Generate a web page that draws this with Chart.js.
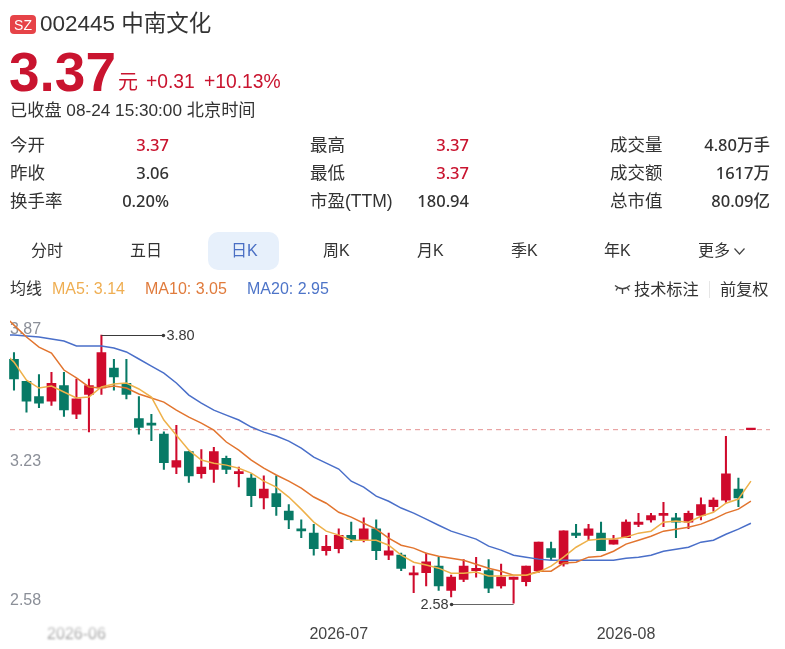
<!DOCTYPE html>
<html lang="zh"><head><meta charset="utf-8">
<script src="https://cdn.jsdelivr.net/npm/chart.js@4"></script>
<style>
html,body{margin:0;padding:0;background:#fff;width:785px;height:649px;overflow:hidden}
body{font-family:"Liberation Sans","Noto Sans CJK SC",sans-serif;color:#333;position:relative}
canvas{position:absolute;left:0;top:0}
.t{position:absolute;white-space:nowrap;line-height:24px;height:24px}
.r{text-align:right;font-family:"Noto Sans","Noto Sans CJK SC",sans-serif;font-weight:500}
.red{color:#c9142f}
</style></head><body>
<canvas id="c" width="785" height="649"></canvas>
<div style="position:absolute;left:44px;top:621px;width:64px;height:22px;backdrop-filter:blur(1.3px);-webkit-backdrop-filter:blur(1.3px);background:linear-gradient(to bottom,rgba(255,255,255,.75),rgba(255,255,255,.1))"></div>
<div class="t" style="left:10px;top:15px;width:26px;height:19px;line-height:20px;background:#e5393f;border-radius:4px;color:#fff;font-size:14px;text-align:center;opacity:.95">SZ</div>
<div class="t" style="left:40px;top:12px;font-size:22.5px">002445 中南文化</div>
<div class="t red" style="left:9px;top:58px;font-size:55px;font-weight:700;line-height:28px">3.37</div>
<div class="t red" style="left:118px;top:70px;font-size:20px">元</div>
<div class="t red" style="left:146px;top:70px;font-size:19.3px">+0.31</div>
<div class="t red" style="left:204px;top:70px;font-size:19.3px">+10.13%</div>
<div class="t" style="left:10px;top:98px;font-size:17.2px">已收盘 08-24 15:30:00 北京时间</div>

<div class="t" style="left:10px;top:133px;font-size:17.5px">今开</div><div class="t r red" style="left:69px;width:100px;top:133px;font-size:16.5px">3.37</div>
<div class="t" style="left:10px;top:161px;font-size:17.5px">昨收</div><div class="t r" style="left:69px;width:100px;top:161px;font-size:16.5px">3.06</div>
<div class="t" style="left:10px;top:189px;font-size:17.5px">换手率</div><div class="t r" style="left:69px;width:100px;top:189px;font-size:16.5px">0.20%</div>
<div class="t" style="left:310px;top:133px;font-size:17.5px">最高</div><div class="t r red" style="left:369px;width:100px;top:133px;font-size:16.5px">3.37</div>
<div class="t" style="left:310px;top:161px;font-size:17.5px">最低</div><div class="t r red" style="left:369px;width:100px;top:161px;font-size:16.5px">3.37</div>
<div class="t" style="left:310px;top:189px;font-size:17.5px">市盈(TTM)</div><div class="t r" style="left:369px;width:100px;top:189px;font-size:16.5px">180.94</div>
<div class="t" style="left:610px;top:133px;font-size:17.5px">成交量</div><div class="t r" style="left:670px;width:100px;top:133px;font-size:16.5px">4.80万手</div>
<div class="t" style="left:610px;top:161px;font-size:17.5px">成交额</div><div class="t r" style="left:670px;width:100px;top:161px;font-size:16.5px">1617万</div>
<div class="t" style="left:610px;top:189px;font-size:17.5px">总市值</div><div class="t r" style="left:670px;width:100px;top:189px;font-size:16.5px">80.09亿</div>

<div style="position:absolute;left:208px;top:232px;width:71px;height:38px;background:#e7f0fb;border-radius:10px"></div>
<div class="t" style="left:31px;top:239px;font-size:16px">分时</div>
<div class="t" style="left:130px;top:239px;font-size:16px">五日</div>
<div class="t" style="left:231px;top:239px;font-size:16px;color:#4a6fc4">日K</div>
<div class="t" style="left:323px;top:239px;font-size:16px">周K</div>
<div class="t" style="left:417px;top:239px;font-size:16px">月K</div>
<div class="t" style="left:511px;top:239px;font-size:16px">季K</div>
<div class="t" style="left:604px;top:239px;font-size:16px">年K</div>
<div class="t" style="left:698px;top:239px;font-size:16px">更多</div>
<svg style="position:absolute;left:733px;top:247px" width="13" height="9"><path d="M1.5 1.5L6.5 7L11.5 1.5" fill="none" stroke="#444" stroke-width="1.2"/></svg>

<div class="t" style="left:10px;top:277px;font-size:16px">均线</div>
<div class="t" style="left:52px;top:277px;font-size:16px;color:#efae52">MA5: 3.14</div>
<div class="t" style="left:145px;top:277px;font-size:16px;color:#e07b3c">MA10: 3.05</div>
<div class="t" style="left:247px;top:277px;font-size:16px;color:#4d74c8">MA20: 2.95</div>
<svg style="position:absolute;left:614px;top:284px" width="17" height="11"><path d="M1 1.5Q8.5 8 16 1.5M8.5 5V10M3.5 4L2 6.5M13.5 4L15 6.5" fill="none" stroke="#444" stroke-width="1.4"/></svg>
<div class="t" style="left:634px;top:277px;font-size:16.2px">技术标注</div>
<div style="position:absolute;left:709px;top:281px;width:1px;height:17px;background:#e6e6e6"></div>
<div class="t" style="left:720px;top:277px;font-size:16.2px">前复权</div>

<script>
// One leading and one trailing slot frame the 60 daily candles.
const categories = ['', '', '', '', '', '', '2026-06', '', '', '', '', '', '', '', '', '', '', '', '', '', '', '',
  '', '', '', '', '', '2026-07', '', '', '', '', '', '', '', '', '', '', '', '', '', '', '', '', '', '', '', '', '', '',
  '2026-08', '', '', '', '', '', '', '', '', '', '', ''];
const opens  = [3.69,3.59,3.52,3.50,3.57,3.44,3.53,3.56,3.65,3.58,3.42,3.40,3.35,3.20,3.27,3.17,3.19,3.24,3.17,3.15,
  3.06,3.08,3.00,2.92,2.90,2.82,2.83,2.89,2.87,2.92,2.80,2.80,2.71,2.72,2.75,2.64,2.69,2.73,2.73,2.66,
  2.69,2.68,2.73,2.83,2.76,2.90,2.89,2.90,2.85,2.88,2.94,2.96,2.98,2.97,2.95,2.98,3.02,3.05,3.10,3.37];
const closes = [3.60,3.50,3.49,3.58,3.46,3.51,3.57,3.72,3.61,3.53,3.38,3.39,3.22,3.23,3.16,3.20,3.27,3.19,3.18,3.07,
  3.10,3.02,2.96,2.91,2.83,2.84,2.89,2.87,2.92,2.82,2.82,2.74,2.72,2.77,2.66,2.70,2.75,2.74,2.65,2.70,
  2.70,2.75,2.86,2.79,2.91,2.89,2.92,2.82,2.87,2.95,2.95,2.98,2.99,2.95,2.99,3.03,3.05,3.17,3.06,3.37];
const lows   = [3.55,3.45,3.47,3.48,3.43,3.42,3.36,3.53,3.55,3.51,3.35,3.32,3.19,3.17,3.13,3.15,3.13,3.17,3.11,3.02,
  3.01,2.98,2.92,2.88,2.80,2.80,2.81,2.86,2.86,2.78,2.78,2.73,2.63,2.66,2.64,2.61,2.68,2.70,2.63,2.65,
  2.58,2.66,2.72,2.78,2.75,2.88,2.87,2.82,2.85,2.88,2.93,2.95,2.93,2.88,2.92,2.96,3.00,3.04,3.02,3.37];
const highs  = [3.72,3.59,3.62,3.63,3.63,3.60,3.60,3.80,3.69,3.69,3.52,3.44,3.36,3.39,3.27,3.28,3.29,3.25,3.20,3.17,
  3.16,3.16,3.03,2.96,2.94,2.89,2.92,2.95,2.97,2.96,2.90,2.81,2.75,2.81,2.79,2.71,2.78,2.79,2.78,2.76,
  2.70,2.75,2.86,2.86,2.91,2.94,2.94,2.95,2.89,2.96,2.99,2.99,3.04,2.99,3.00,3.06,3.06,3.34,3.15,3.37];
const ma5  = [3.732,3.677,3.595,3.559,3.568,3.541,3.514,3.518,3.564,3.577,3.582,3.555,3.518,3.414,3.345,3.277,3.232,3.218,3.209,3.195,3.173,
  3.136,3.109,3.064,3.009,2.95,2.909,2.891,2.868,2.868,2.868,2.845,2.8,2.768,2.755,2.741,2.718,2.718,2.723,2.705,2.705,
  2.709,2.709,2.723,2.75,2.791,2.836,2.868,2.873,2.873,2.882,2.9,2.909,2.95,2.955,2.95,2.977,2.995,3.036,3.055,3.136];
const ma10 = [3.9,3.845,3.791,3.745,3.718,3.641,3.605,3.564,3.559,3.568,3.559,3.532,3.514,3.495,3.459,3.427,3.4,3.368,3.314,3.277,3.232,
  3.195,3.164,3.136,3.105,3.064,3.036,2.995,2.973,2.945,2.918,2.877,2.845,2.832,2.809,2.795,2.786,2.777,2.759,2.741,2.727,
  2.709,2.709,2.727,2.727,2.764,2.768,2.791,2.795,2.818,2.85,2.868,2.886,2.909,2.918,2.927,2.941,2.964,2.991,3.009,3.045];
const ma20 = [3.8,3.8,3.795,3.791,3.782,3.773,3.75,3.75,3.75,3.741,3.723,3.691,3.659,3.627,3.582,3.527,3.491,3.459,3.436,3.414,3.382,
  3.359,3.341,3.318,3.286,3.245,3.218,3.191,3.136,3.109,3.068,3.045,3.014,2.991,2.964,2.936,2.909,2.891,2.873,2.841,2.823,
  2.8,2.791,2.782,2.777,2.777,2.777,2.777,2.777,2.777,2.786,2.791,2.8,2.818,2.827,2.836,2.859,2.868,2.895,2.918,2.945];
const yTickValues = [3.87, 3.23, 2.58];
const prevLimit = 3.37;
const highCallout = 3.80;
const lowCallout = 2.58;

const RED = '#cf0a2c', GREEN = '#087a66';
const isRed = opens.map((o, i) => closes[i] >= o);
const colors = [null, ...isRed.map(r => r ? RED : GREEN), null];
const wicks = [null, ...lows.map((l, i) => [l, highs[i]]), null];
const bodies = [null, ...opens.map((o, i) => [o, closes[i]]), null];
const lineClip = {left: -8.5, right: 0, top: false, bottom: 0};
const maLine = (data, color) => ({type: 'line', data, borderColor: color, borderWidth: 1.5, pointRadius: 0,
  tension: 0, clip: lineClip, order: 1});

const overlay = {
  id: 'overlay',
  beforeDatasetsDraw(chart) {
    const {ctx, scales: {y}} = chart;
    const ly = y.getPixelForValue(prevLimit);
    ctx.save();
    ctx.strokeStyle = 'rgba(220,110,110,.75)'; ctx.lineWidth = 1; ctx.setLineDash([5, 4]);
    ctx.beginPath(); ctx.moveTo(10, ly); ctx.lineTo(770, ly); ctx.stroke(); ctx.setLineDash([]);
    ctx.font = '16px "Liberation Sans"'; ctx.fillStyle = '#8b8f98'; ctx.textAlign = 'left';
    y.ticks.forEach((t, i) => {
      const last = i === y.ticks.length - 1;
      ctx.textBaseline = i === 0 ? 'top' : (last ? 'alphabetic' : 'middle');
      ctx.fillText(t.value.toFixed(2), 10, y.getPixelForValue(t.value) + (last ? 1.5 : 1.5));
    });
    ctx.restore();
  },
  afterDatasetsDraw(chart) {
    const {ctx, scales: {x, y}} = chart;
    ctx.save();
    ctx.font = '14.5px "Liberation Sans"'; ctx.textBaseline = 'middle'; ctx.lineWidth = 1;
    const hx = x.getPixelForValue(highs.indexOf(highCallout) + 1), hy = Math.round(y.getPixelForValue(highCallout)) + .5;
    ctx.strokeStyle = ctx.fillStyle = '#3a3a3a';
    ctx.beginPath(); ctx.moveTo(hx, hy); ctx.lineTo(hx + 62, hy); ctx.stroke();
    ctx.beginPath(); ctx.arc(hx + 62, hy, 1.8, 0, 7); ctx.fill();
    ctx.textAlign = 'left'; ctx.fillText(highCallout.toFixed(2), hx + 65, hy);
    const lx = x.getPixelForValue(lows.indexOf(lowCallout) + 1), ly = Math.round(y.getPixelForValue(lowCallout)) + .5;
    ctx.strokeStyle = '#666';
    ctx.beginPath(); ctx.moveTo(lx, ly); ctx.lineTo(lx - 62, ly); ctx.stroke();
    ctx.beginPath(); ctx.arc(lx - 62, ly, 1.8, 0, 7); ctx.fill();
    ctx.textAlign = 'right'; ctx.fillText(lowCallout.toFixed(2), lx - 65, ly);
    ctx.restore();
  }
};

new Chart(document.getElementById('c'), {
  data: {
    labels: categories,
    datasets: [
      {type: 'bar', data: wicks, backgroundColor: colors, barThickness: 1.4, grouped: false, order: 3, borderWidth: 0},
      {type: 'bar', data: bodies, backgroundColor: colors, barThickness: 9, grouped: false, order: 2, borderWidth: 0, minBarLength: 1.6},
      maLine(ma5, '#eeb14a'),
      maLine(ma10, '#e2752f'),
      maLine(ma20, '#4a6fc9')
    ]
  },
  options: {
    responsive: false, animation: false, devicePixelRatio: 1,
    layout: {padding: {left: 1.5, right: 21.6, top: 319.6, bottom: 0}},
    plugins: {legend: {display: false}, tooltip: {enabled: false}},
    scales: {
      x: {
        type: 'category', offset: false,
        grid: {display: false}, border: {display: false},
        afterFit(s) { s.height = 45.4; s.paddingLeft = 0; s.paddingRight = 0; },
        ticks: {autoSkip: false, maxRotation: 0, padding: 13,
          font: {size: 16, family: '"Liberation Sans"'},
          color: c => c.index === 6 ? 'rgba(70,70,70,.7)' : '#444'}
      },
      y: {
        min: 2.58, max: 3.87, display: false,
        afterBuildTicks(s) { s.ticks = yTickValues.map(value => ({value})); }
      }
    }
  },
  plugins: [overlay]
});
</script>
</body></html>
